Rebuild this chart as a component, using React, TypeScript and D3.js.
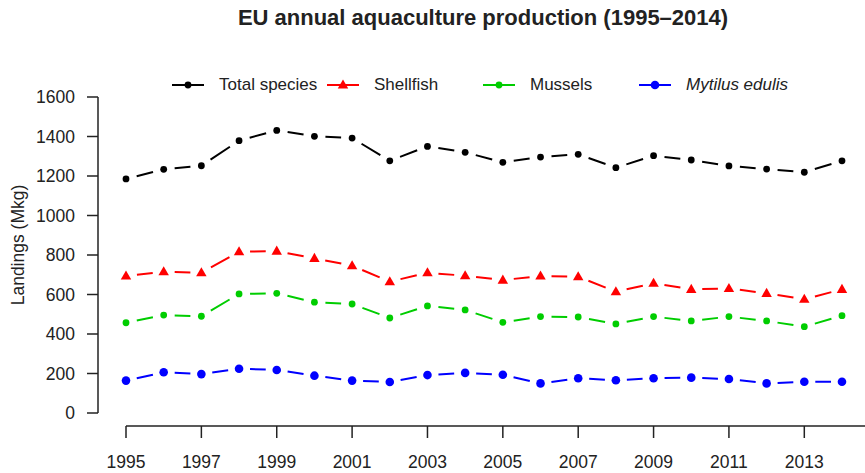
import React from 'react';
import * as d3 from 'd3';

const years = d3.range(1995, 2015);
const totalSpecies = [1185, 1234, 1252, 1379, 1431, 1401, 1392, 1277, 1350, 1320, 1269, 1296, 1310, 1242, 1303, 1281, 1251, 1235, 1219, 1277];
const shellfish = [694, 715, 710, 817, 820, 783, 746, 665, 710, 695, 673, 694, 690, 614, 657, 626, 631, 606, 576, 626];
const mussels = [457, 496, 490, 603, 606, 561, 552, 481, 542, 522, 459, 488, 486, 451, 488, 466, 488, 466, 437, 493];
const mytilus = [164, 206, 197, 224, 218, 189, 164, 157, 192, 203, 194, 150, 176, 166, 176, 179, 172, 150, 158, 158];
const xTickYears = [1995, 1997, 1999, 2001, 2003, 2005, 2007, 2009, 2011, 2013];
const yTickValues = [0, 200, 400, 600, 800, 1000, 1200, 1400, 1600];

const seriesList = [
  { name: 'Total species', values: totalSpecies, colour: '#000000', mark: 'dot', italic: false },
  { name: 'Shellfish', values: shellfish, colour: '#ff0000', mark: 'tri', italic: false },
  { name: 'Mussels', values: mussels, colour: '#00cd00', mark: 'dot', italic: false },
  { name: 'Mytilus edulis', values: mytilus, colour: '#0000ff', mark: 'circle', italic: true },
];
const legendX = [172, 327, 483, 639];

const width = 865, height = 473;
const font = '"Liberation Sans", Arial, Helvetica, sans-serif';
const textCol = '#222';

const x = d3.scaleLinear().domain([1995, 2013]).range([126, 804.3]);
const y = d3.scaleLinear().domain([0, 1600]).range([413, 97]);

const marker = (kind: string, cx: number, cy: number, colour: string, key: any) => {
  if (kind === 'tri') {
    const s = 5.5;
    return <path key={key} d={`M${cx},${cy - s}L${cx + s * 0.95},${cy + s * 0.65}L${cx - s * 0.95},${cy + s * 0.65}Z`} fill={colour} />;
  }
  const r = kind === 'circle' ? 4.3 : 3.4;
  return <circle key={key} cx={cx} cy={cy} r={r} fill={colour} />;
};

// R type="b": segments stopped short of each point
const gappedSegments = (pts: [number, number][], gap: number) => {
  const out: string[] = [];
  for (let i = 0; i < pts.length - 1; i++) {
    const [x0, y0] = pts[i], [x1, y1] = pts[i + 1];
    const len = Math.hypot(x1 - x0, y1 - y0);
    if (len <= 2 * gap) continue;
    const ux = (x1 - x0) / len, uy = (y1 - y0) / len;
    out.push(`M${x0 + ux * gap},${y0 + uy * gap}L${x1 - ux * gap},${y1 - uy * gap}`);
  }
  return out.join('');
};

export default function App() {
  return (
    <svg width={width} height={height} style={{ position: 'absolute', left: 0, top: 0, background: '#fff' }} fontFamily={font}>
      <text x={483} y={25} textAnchor="middle" fontSize={22} fontWeight="bold" fill={textCol}>
        EU annual aquaculture production (1995–2014)
      </text>

      {/* legend */}
      {seriesList.map((s, i) => (
        <g key={s.name}>
          <line x1={legendX[i]} x2={legendX[i] + 32} y1={85} y2={85} stroke={s.colour} strokeWidth={2} />
          {marker(s.mark, legendX[i] + 16, 85, s.colour, 'm')}
          <text x={legendX[i] + 47} y={84} dominantBaseline="central" fontSize={17} fill={textCol} fontStyle={s.italic ? 'italic' : 'normal'}>
            {s.name}
          </text>
        </g>
      ))}

      {/* y axis */}
      <line x1={98} x2={98} y1={y(0)} y2={y(1600)} stroke="#222" strokeWidth={1.5} />
      {yTickValues.map(v => (
        <g key={v}>
          <line x1={87} x2={98} y1={y(v)} y2={y(v)} stroke="#222" strokeWidth={1.5} />
          <text x={75} y={y(v)} textAnchor="end" dominantBaseline="central" fontSize={17.5} fill={textCol}>{v}</text>
        </g>
      ))}
      <text transform={`translate(18,${245}) rotate(-90)`} textAnchor="middle" dominantBaseline="central" fontSize={17.5} fill={textCol}>
        Landings (Mkg)
      </text>

      {/* x axis */}
      <line x1={x(1995)} x2={x(2015)} y1={426} y2={426} stroke="#222" strokeWidth={1.5} />
      {xTickYears.map(v => (
        <g key={v}>
          <line x1={x(v)} x2={x(v)} y1={426} y2={438} stroke="#222" strokeWidth={1.5} />
          <text x={x(v)} y={468} textAnchor="middle" fontSize={17.5} fill={textCol}>{v}</text>
        </g>
      ))}

      {/* series */}
      {seriesList.map(s => {
        const pts = s.values.map((v, i) => [x(years[i]), y(v)] as [number, number]);
        return (
          <g key={s.name}>
            <path d={gappedSegments(pts, 11)} stroke={s.colour} strokeWidth={2} fill="none" />
            {pts.map((p, i) => marker(s.mark, p[0], p[1], s.colour, i))}
          </g>
        );
      })}
    </svg>
  );
}
